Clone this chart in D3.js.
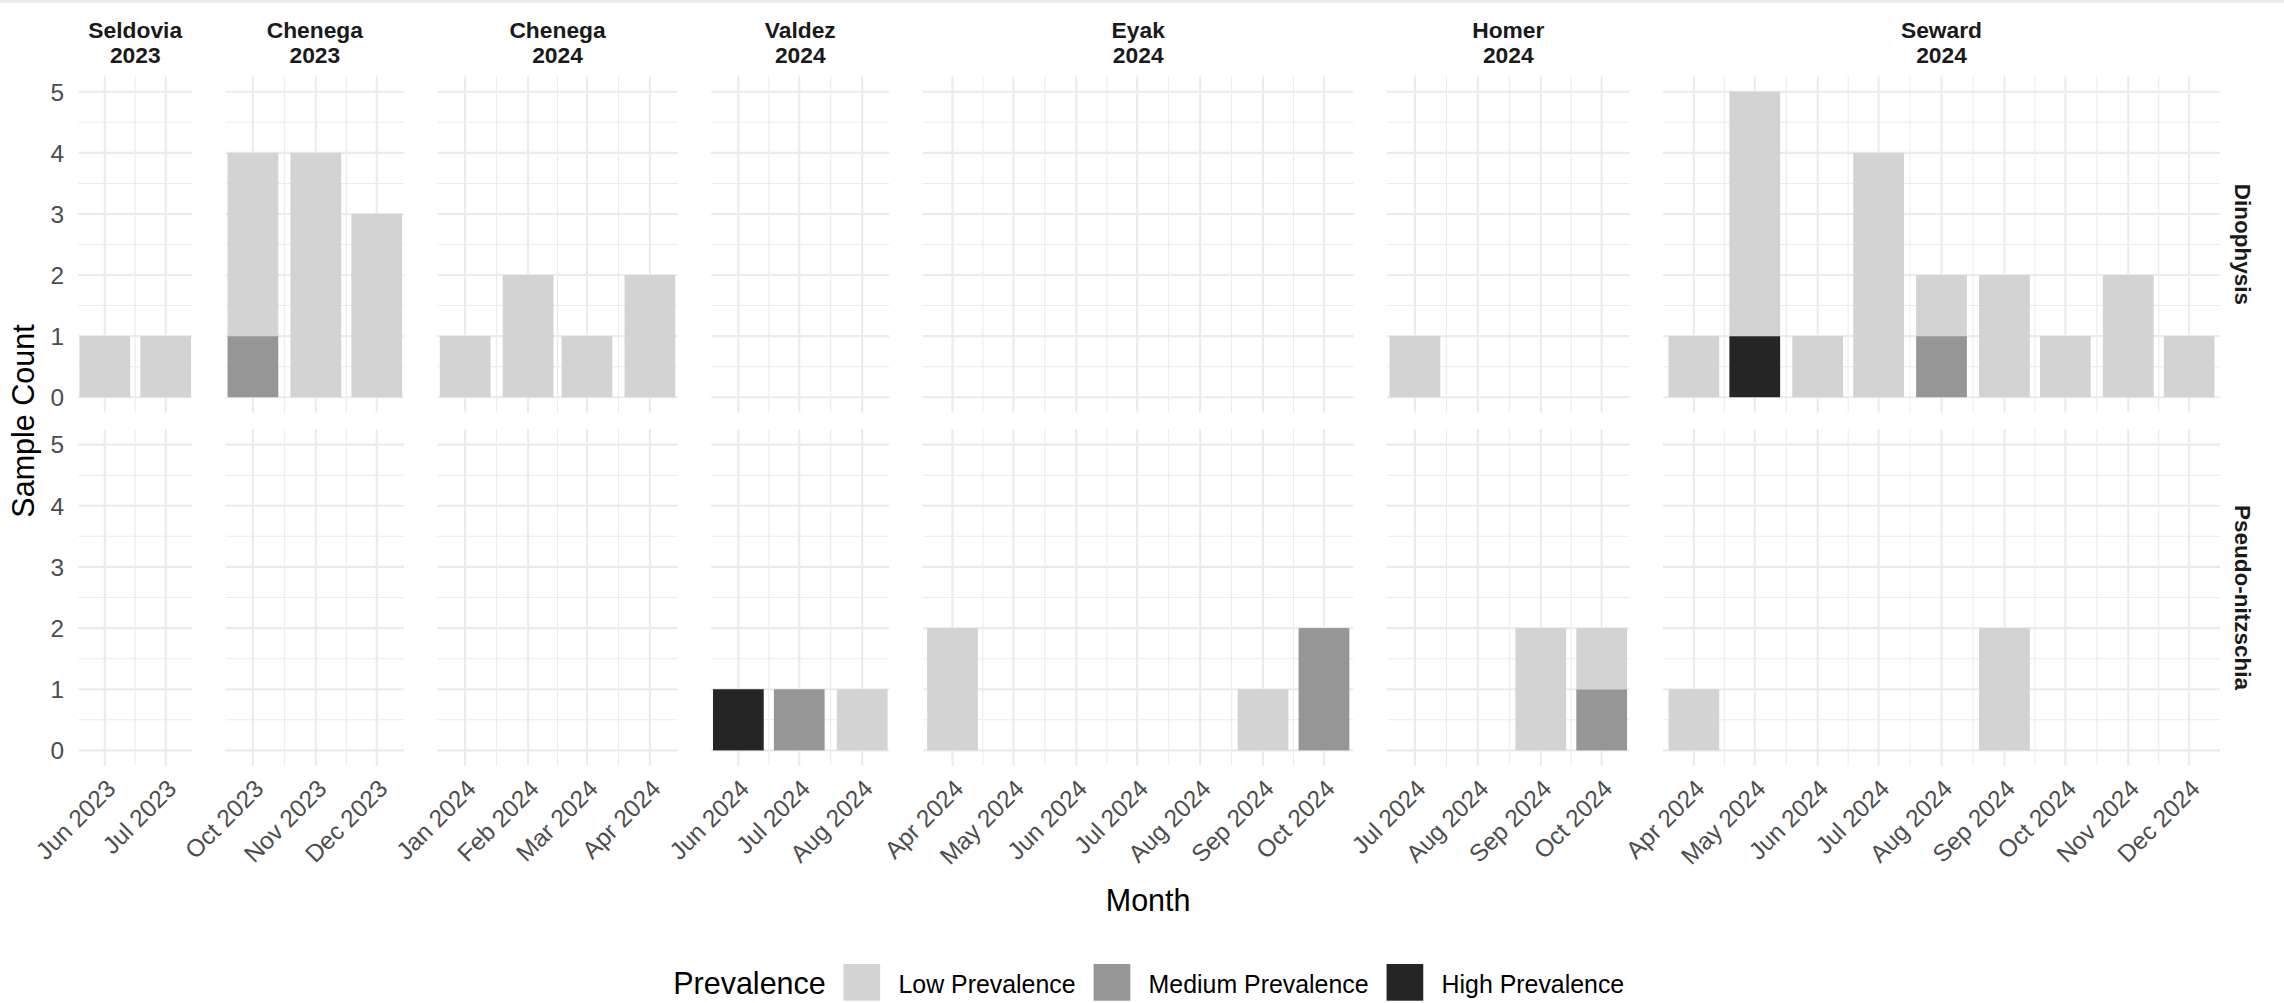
<!DOCTYPE html>
<html><head><meta charset="utf-8">
<script src="https://cdn.jsdelivr.net/npm/d3@7"></script>
<style>
body{margin:0;background:#fff;}
svg{display:block;font-family:"Liberation Sans",Arial,Helvetica,sans-serif;}
</style>
</head><body>
<svg id="chart" width="2284" height="1003"></svg>
<script>
// ---------------- DATA ----------------
const panelSites = ["Seldovia","Chenega","Chenega","Valdez","Eyak","Homer","Seward"];
const panelYears = ["2023","2023","2024","2024","2024","2024","2024"];
const taxa = ["Dinophysis","Pseudo-nitzschia"];
const prevalenceLevels = ["Low Prevalence","Medium Prevalence","High Prevalence"];
const prevalenceColors = ["#d3d3d3","#969696","#252525"];
const yTicks = [0,1,2,3,4,5];

// [panel index, month, low, medium, high]
const dinophysis = [
  [0,"2023-06",1,0,0],
  [0,"2023-07",1,0,0],
  [1,"2023-10",3,1,0],
  [1,"2023-11",4,0,0],
  [1,"2023-12",3,0,0],
  [2,"2024-01",1,0,0],
  [2,"2024-02",2,0,0],
  [2,"2024-03",1,0,0],
  [2,"2024-04",2,0,0],
  [5,"2024-07",1,0,0],
  [6,"2024-04",1,0,0],
  [6,"2024-05",4,0,1],
  [6,"2024-06",1,0,0],
  [6,"2024-07",4,0,0],
  [6,"2024-08",1,1,0],
  [6,"2024-09",2,0,0],
  [6,"2024-10",1,0,0],
  [6,"2024-11",2,0,0],
  [6,"2024-12",1,0,0]
];
const pseudoNitzschia = [
  [3,"2024-06",0,0,1],
  [3,"2024-07",0,1,0],
  [3,"2024-08",1,0,0],
  [4,"2024-04",2,0,0],
  [4,"2024-09",1,0,0],
  [4,"2024-10",0,2,0],
  [5,"2024-09",2,0,0],
  [5,"2024-10",1,1,0],
  [6,"2024-04",1,0,0],
  [6,"2024-09",2,0,0]
];

// ---------------- LAYOUT ----------------
const W = 2284, H = 1003;
const plotLeft = 78.3, plotRight = 2220, panelGap = 33.6;
const rows = [{top:76.5, bottom:412.5},{top:429.3, bottom:765.7}];
const DAY = 86400000;
const barDays = 25;
const parse = d3.utcParse("%Y-%m");
const fmt = d3.utcFormat("%b %Y");

const svg = d3.select("#chart");
svg.append("rect").attr("x",0).attr("y",0).attr("width",W).attr("height",H).attr("fill","#fff");
svg.append("rect").attr("x",0).attr("y",0).attr("width",W).attr("height",2.5).attr("fill","#ebebeb");

const series = [dinophysis, pseudoNitzschia].map(arr => arr.map(r => ({
  panel:r[0], date:parse(r[1]), low:r[2], medium:r[3], high:r[4]
})));

// per-panel date extents from data (both rows)
const all = series.flat();
const panels = panelSites.map((s,i) => {
  const ds = all.filter(d => d.panel === i).map(d => d.date);
  const first = d3.min(ds), last = d3.max(ds);
  const ext = (last - first) + barDays*DAY;
  const pad = 0.01*ext;
  return {site:s, year:panelYears[i], first, last,
          d0: +first - barDays*DAY/2 - pad, d1: +last + barDays*DAY/2 + pad};
});
const totalSpan = d3.sum(panels, p => p.d1 - p.d0);
const pxPer = (plotRight - plotLeft - panelGap*(panels.length-1)) / totalSpan;
let cx = plotLeft;
panels.forEach(p => {
  p.x0 = cx; p.x1 = cx + (p.d1 - p.d0)*pxPer; cx = p.x1 + panelGap;
  p.x = d3.scaleUtc().domain([new Date(p.d0), new Date(p.d1)]).range([p.x0, p.x1]);
  p.ticks = d3.utcMonth.range(p.first, d3.utcMonth.offset(p.last,1));
  p.minor = [];
  for (let i=0;i<p.ticks.length-1;i++) p.minor.push(new Date((+p.ticks[i] + +p.ticks[i+1])/2));
});

const yScales = rows.map(r => d3.scaleLinear().domain([-0.25,5.25]).range([r.bottom, r.top]));
const yMinor = d3.range(0.5,5,1);

const stack = d3.stack().keys(["high","medium","low"]);
const colorOf = {low:prevalenceColors[0], medium:prevalenceColors[1], high:prevalenceColors[2]};

const grid = svg.append("g");
const bars = svg.append("g");

rows.forEach((r, ri) => {
  const y = yScales[ri];
  panels.forEach((p, pi) => {
    const g = grid.append("g");
    yMinor.forEach(v => g.append("line").attr("x1",p.x0).attr("x2",p.x1)
      .attr("y1",y(v)).attr("y2",y(v)).attr("stroke","#ebebeb").attr("stroke-width",1.05));
    p.minor.forEach(d => g.append("line").attr("x1",p.x(d)).attr("x2",p.x(d))
      .attr("y1",r.top).attr("y2",r.bottom).attr("stroke","#ebebeb").attr("stroke-width",1.05));
    yTicks.forEach(v => g.append("line").attr("x1",p.x0).attr("x2",p.x1)
      .attr("y1",y(v)).attr("y2",y(v)).attr("stroke","#ebebeb").attr("stroke-width",2.1));
    p.ticks.forEach(d => g.append("line").attr("x1",p.x(d)).attr("x2",p.x(d))
      .attr("y1",r.top).attr("y2",r.bottom).attr("stroke","#ebebeb").attr("stroke-width",2.1));

    const data = series[ri].filter(d => d.panel === pi);
    const st = stack(data);
    st.forEach(layer => {
      layer.forEach(seg => {
        if (seg[1] - seg[0] <= 0) return;
        const d = seg.data.date;
        const xa = p.x(new Date(+d - barDays*DAY/2)), xb = p.x(new Date(+d + barDays*DAY/2));
        bars.append("rect").attr("x",xa).attr("width",xb-xa)
          .attr("y",y(seg[1])).attr("height",y(seg[0]) - y(seg[1]))
          .attr("fill",colorOf[layer.key]);
      });
    });
  });
  yTicks.forEach(v => svg.append("text").attr("x",64).attr("y",y(v)).attr("dy","0.36em")
    .attr("text-anchor","end").attr("font-size",24.4).attr("fill","#4d4d4d").text(v));
  svg.append("text").attr("transform",`translate(2235,${(r.top+r.bottom)/2}) rotate(90)`)
    .attr("text-anchor","middle").attr("font-size",22.5).attr("font-weight","bold")
    .attr("fill","#1a1a1a").text(taxa[ri]);
});

panels.forEach(p => {
  const mx = (p.x0 + p.x1)/2;
  svg.append("text").attr("x",mx).attr("y",38.3).attr("text-anchor","middle")
    .attr("font-size",22.8).attr("font-weight","bold").attr("fill","#1a1a1a").text(p.site);
  svg.append("text").attr("x",mx).attr("y",62.7).attr("text-anchor","middle")
    .attr("font-size",22.8).attr("font-weight","bold").attr("fill","#1a1a1a").text(p.year);
  p.ticks.forEach(d => {
    svg.append("text").attr("transform",`translate(${p.x(d)},778) rotate(-45)`)
      .attr("text-anchor","end").attr("dy","0.71em").attr("font-size",24.4)
      .attr("fill","#4d4d4d").text(fmt(d));
  });
});

svg.append("text").attr("x",(plotLeft+plotRight)/2 - 1).attr("y",911).attr("text-anchor","middle")
  .attr("font-size",30.5).attr("fill","#000").text("Month");
svg.append("text").attr("transform",`translate(33.5,421) rotate(-90)`).attr("text-anchor","middle")
  .attr("font-size",30.5).attr("fill","#000").text("Sample Count");

const lg = svg.append("g");
const title = lg.append("text").attr("x",0).attr("y",994).attr("font-size",30.5).attr("fill","#000").text("Prevalence");
let lx = title.node().getComputedTextLength() + 17.7;
prevalenceLevels.forEach((lab,i) => {
  lg.append("rect").attr("x",lx).attr("y",964).attr("width",36.7).attr("height",36.7).attr("fill",prevalenceColors[i]);
  lx += 36.7 + 18.3;
  const t = lg.append("text").attr("x",lx).attr("y",993.3).attr("font-size",24.9).attr("fill","#000").text(lab);
  lx += t.node().getComputedTextLength() + (i < prevalenceLevels.length-1 ? 18 : 0);
});
lg.attr("transform",`translate(${1148.7 - lx/2},0)`);
</script>
</body></html>
